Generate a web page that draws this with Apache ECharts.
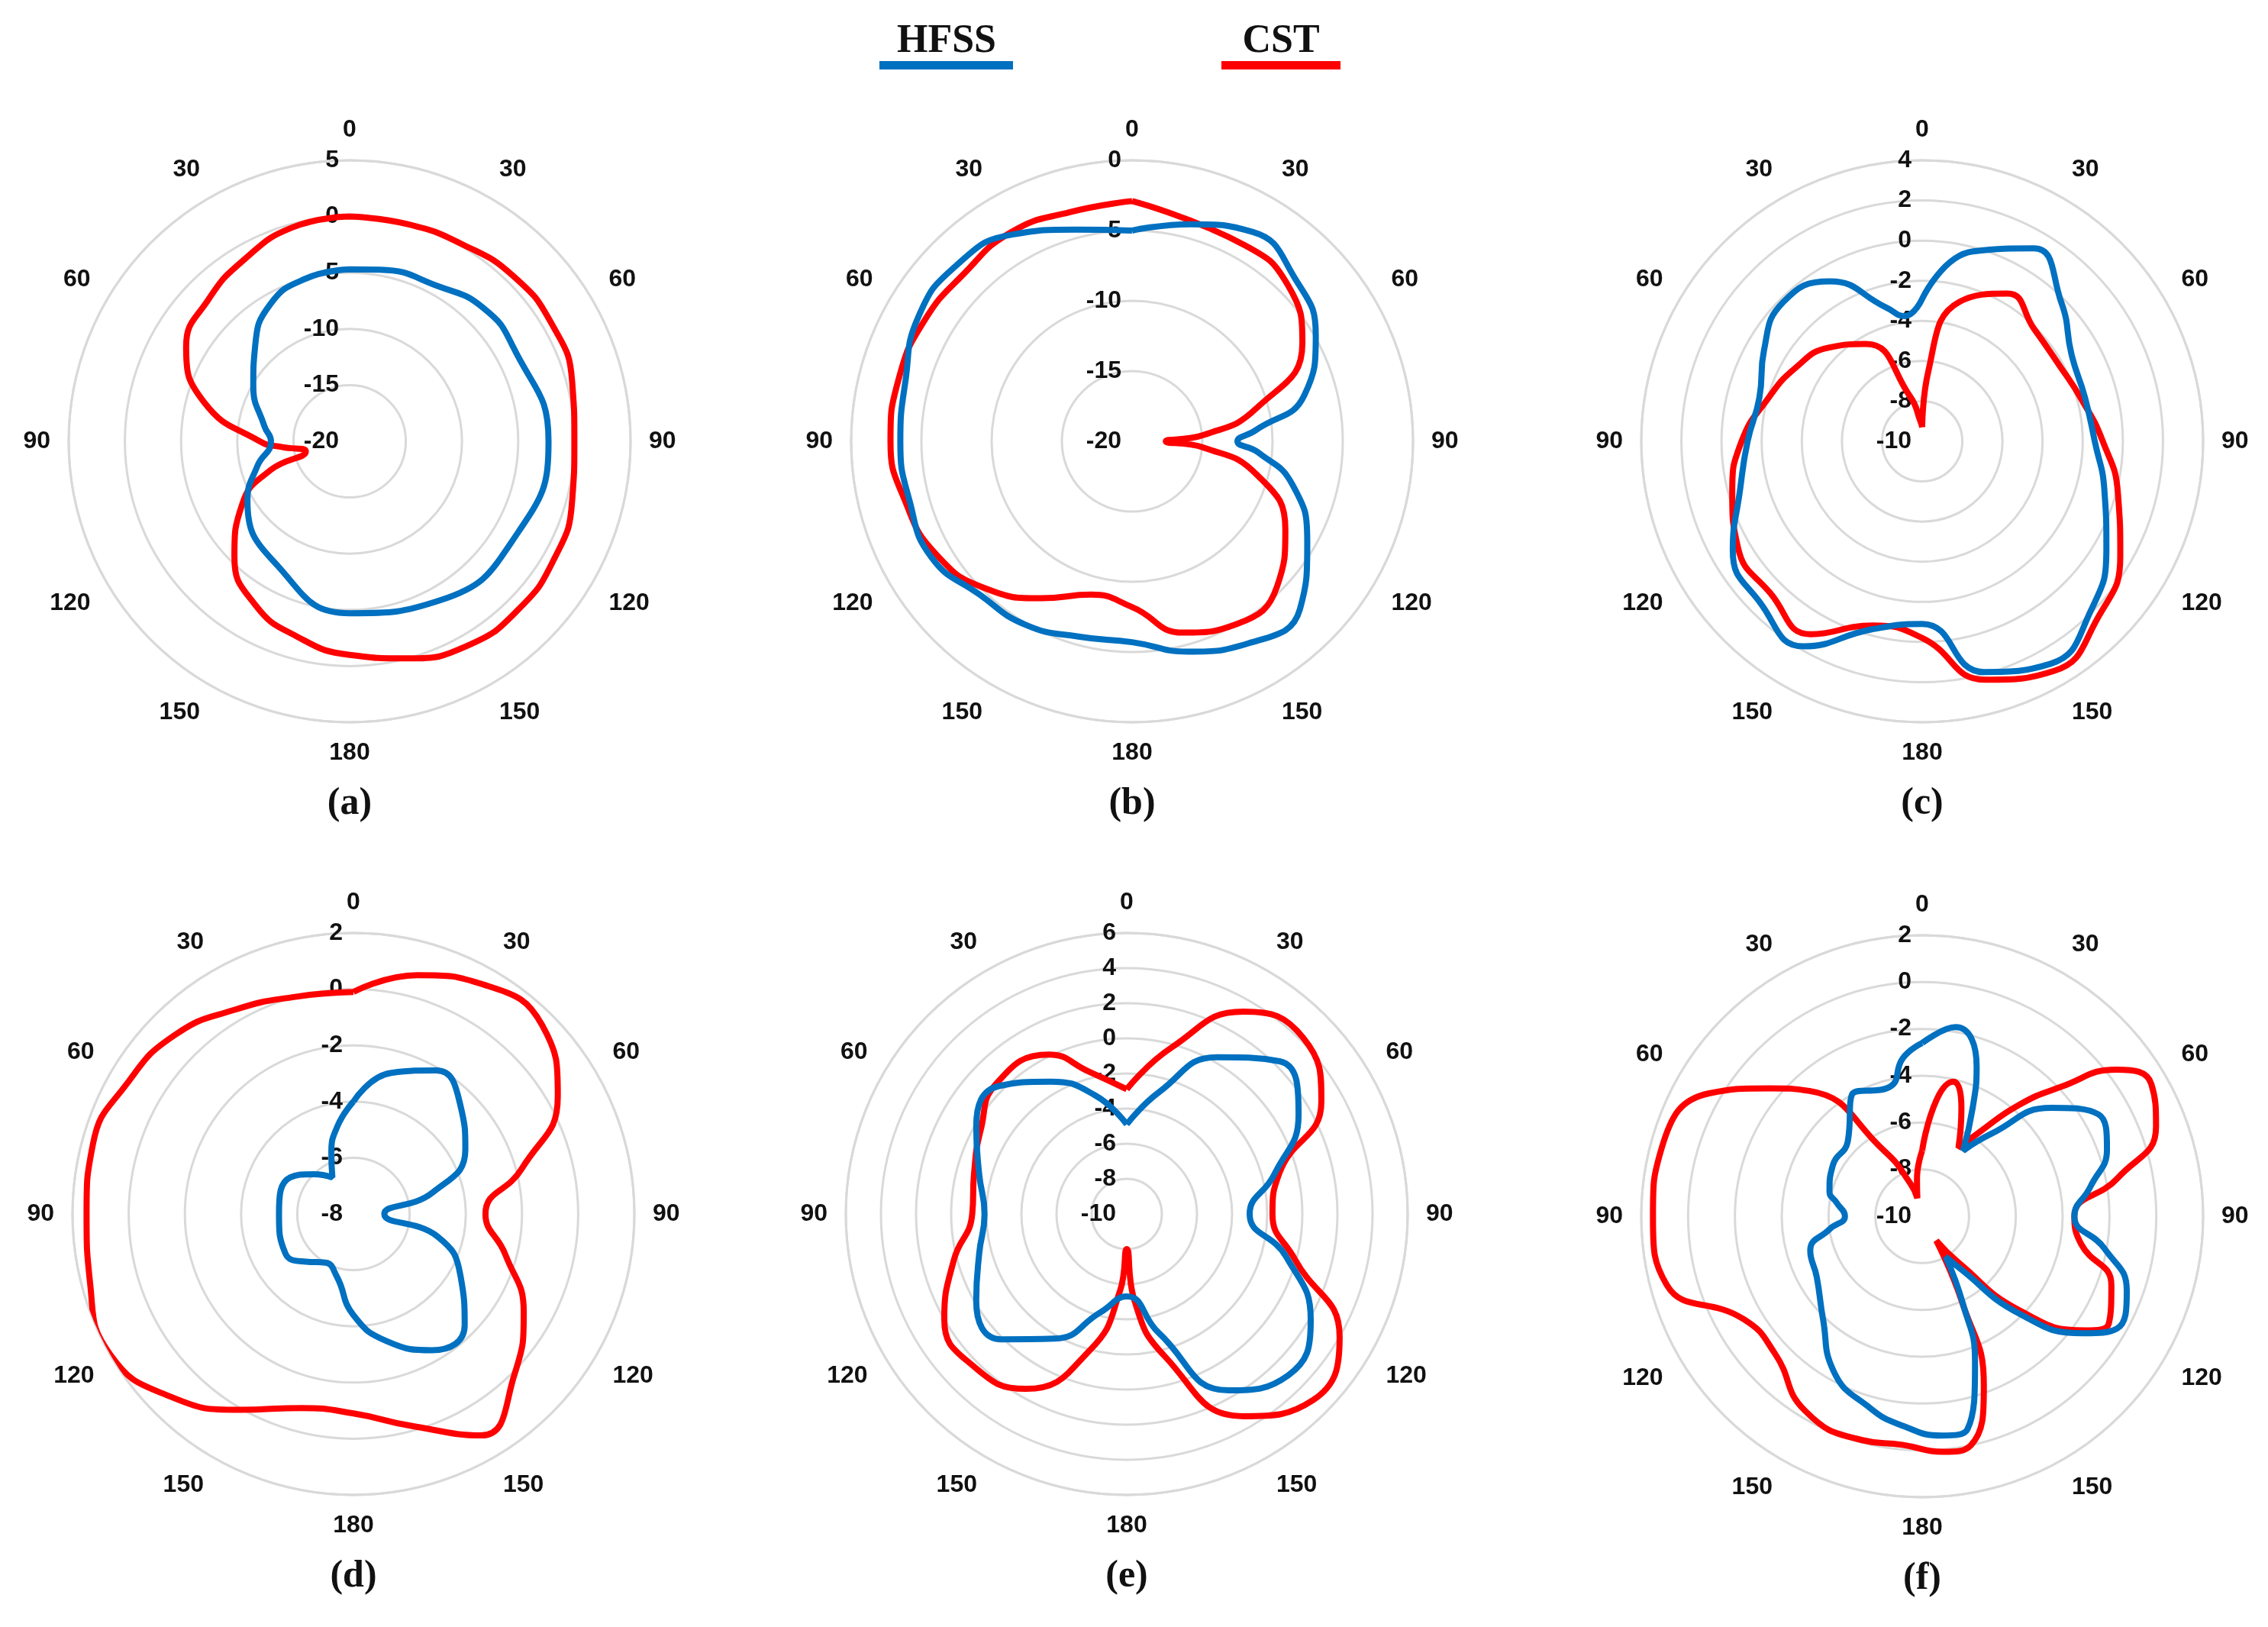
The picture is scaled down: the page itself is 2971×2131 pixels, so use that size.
<!DOCTYPE html>
<html><head><meta charset="utf-8">
<script src="https://cdn.jsdelivr.net/npm/echarts@6/dist/echarts.min.js"></script>
<style>html,body{margin:0;padding:0;background:#fff}#c{width:2971px;height:2131px}</style>
</head><body><div id="c"></div>
<script>
// [angle(deg), gain(dB)]
const aHFSS=[[0,-4.7],[10,-4.5],[30,-4.1],[45,-3.2],[60,-3.2],[90,-2.3],[120,-3],[150,-3.7],[180,-4.7],[210,-7.2],[240,-9.5],[255,-11.5],[270,-13],[280,-12.3],[300,-10.1],[315,-8.1],[330,-5.9],[345,-5]];
const aCST=[[0,0],[15,0],[30,0.2],[45,0.7],[60,0.8],[75,0.5],[90,0],[105,0.5],[120,1],[135,1.2],[150,1],[165,0],[180,-1],[195,-2],[210,-3.2],[225,-5.5],[240,-9],[250,-12.5],[257,-16],[265,-14],[270,-12],[285,-6.6],[300,-3.2],[315,-2.2],[330,-1.3],[345,-0.3]];
const bHFSS=[[0,-5],[15,-4],[30,-2.8],[45,-3.6],[60,-4.9],[75,-7.3],[85,-11.2],[90,-12.5],[95,-11],[105,-8.2],[120,-5.6],[135,-3.1],[150,-3.4],[165,-4.5],[180,-5.7],[195,-5.6],[210,-4.9],[225,-4.6],[240,-3.5],[255,-3.6],[270,-3.5],[285,-3.3],[300,-2.4],[315,-2.3],[330,-3],[345,-4.4]];
const bCST=[[0,-2.9],[30,-3.9],[45,-4.3],[60,-6],[75,-10.8],[85,-14.9],[90,-17.6],[95,-14.9],[105,-10.8],[120,-7.4],[135,-5.4],[150,-5],[165,-5.9],[180,-8.2],[195,-8.7],[210,-7.1],[225,-5.2],[240,-3.9],[255,-3.3],[270,-2.8],[285,-2.8],[300,-2.9],[315,-3.1],[330,-2.8],[345,-3.1]];
const cHFSS=[[0,-2.9],[15,-0.2],[30,1.1],[45,-0.2],[60,-1.4],[75,-1.6],[90,-1.4],[105,-0.6],[120,0.6],[135,1.9],[150,2.8],[165,1.9],[180,-0.9],[195,-0.3],[210,1.8],[225,1.4],[240,0.9],[255,-0.6],[270,-1.3],[285,-1.6],[300,-0.9],[315,-0.2],[330,-0.8],[345,-3.1],[352,-3.7]];
const cCST=[[0,-9.3],[5,-6.5],[15,-2.8],[30,-1.5],[45,-2.1],[60,-2.2],[75,-1.8],[90,-1],[105,0.1],[120,1.4],[135,2.4],[150,3.2],[165,2.3],[180,-0.2],[195,-0.5],[210,1.1],[225,0.7],[240,0.6],[255,-0.2],[270,-1],[285,-2],[300,-2.7],[315,-3.4],[330,-4.4],[345,-7.7],[355,-9]];
const dHFSS=[[0,-4],[15,-2.8],[30,-2.1],[45,-2.6],[60,-3.4],[75,-5.1],[90,-6.9],[105,-4.9],[120,-3.6],[135,-2.4],[150,-2.4],[165,-3.3],[180,-4.4],[195,-5.7],[210,-6],[225,-5.6],[240,-5.2],[270,-5.35],[300,-5.4],[315,-6],[330,-6.5],[340,-5.7],[350,-4.8]];
const dCST=[[0,-0.1],[15,0.8],[30,1.4],[45,1.5],[60,0.4],[75,-1.8],[90,-3.3],[105,-2.4],[120,-1],[135,0.1],[150,1.1],[165,-0.2],[180,-0.9],[195,-0.85],[210,0.05],[225,1.2],[240,2],[255,1.7],[270,1.5],[285,1.6],[300,1.3],[315,1],[330,0.4],[345,0]];
const eHFSS=[[0,-4.9],[15,-2.8],[30,0.3],[45,2.3],[60,1.3],[75,-1.3],[90,-3],[105,-0.6],[120,2.1],[135,3],[150,1.6],[165,-3],[180,-5.3],[195,-4.2],[210,-1.8],[225,0.1],[240,-0.1],[255,-1.3],[270,-1.9],[285,-1.3],[300,-0.1],[315,0.3],[330,-1.3],[345,-3]];
const eCST=[[0,-2.9],[15,-0.2],[30,3.3],[45,4.2],[60,2.8],[75,-1],[90,-1.7],[105,-0.1],[120,4],[135,5],[150,3.3],[165,-1.6],[175,-5.1],[180,-8],[185,-5.6],[195,-2],[210,1.5],[225,2.3],[240,2],[255,0.2],[270,-1.2],[285,-1],[300,-0.4],[315,0.5],[334,0.1],[345,-1.6]];
const fHFSS=[[0,-2.6],[10,-1.8],[20,-3.2],[25,-4.9],[32,-6.7],[40,-5.4],[50,-2.8],[60,-1.3],[70,-1.6],[80,-2.7],[90,-3.5],[100,-2.1],[110,-0.7],[120,-0.4],[126,-1.5],[135,-4.1],[145,-7.4],[150,-8],[155,-5.9],[160,-3.4],[168,-0.7],[175,-0.6],[185,-1],[195,-1.5],[210,-2.4],[224,-3.9],[240,-4.8],[253,-5],[262,-6],[270,-6.7],[279,-6.3],[285,-5.9],[300,-5.6],[315,-5.5],[330,-4],[346,-4.3],[353,-3.2]];
const fCST=[[0,-7.2],[7,-5],[13,-4.1],[20,-5.1],[28,-6.7],[34,-5.7],[41,-3.7],[47,-1.9],[53,0.4],[60,1.3],[69,0.7],[79,-1.5],[90,-3.5],[100,-3.1],[110,-1.4],[120,-0.8],[125,-1.5],[134,-4.2],[142,-7.5],[150,-8.8],[155,-6],[160,-2.3],[168,0],[175,0.1],[185,-0.2],[195,-0.1],[211,-0.3],[227,-1.4],[240,-1.2],[255,1.3],[270,1.5],[285,1.5],[300,0.5],[310,-1.5],[318,-2.8],[330,-6.8],[340,-8.5],[345,-9.2],[352,-8.4]];
const panels=[
 {h:aHFSS,c:aCST,min:-20,max:5,step:5,x:458,y:578,tag:'(a)'},
 {h:bHFSS,c:bCST,min:-20,max:0,step:5,x:1483,y:578,tag:'(b)'},
 {h:cHFSS,c:cCST,min:-10,max:4,step:2,x:2518,y:578,tag:'(c)'},
 {h:dHFSS,c:dCST,min:-8,max:2,step:2,x:463,y:1590,tag:'(d)'},
 {h:eHFSS,c:eCST,min:-10,max:6,step:2,x:1476,y:1590,tag:'(e)'},
 {h:fHFSS,c:fCST,min:-10,max:2,step:2,x:2518,y:1593,tag:'(f)'}
];
const R=368;
function closed(arr){const d=arr.map(p=>[p[1],p[0]]);d.push([arr[0][1],360]);return d;}
const polar=[],angleAxis=[],radiusAxis=[],series=[],graphic=[];
panels.forEach((p,i)=>{
 polar.push({center:[p.x,p.y],radius:R});
 angleAxis.push({polarIndex:i,type:'value',min:0,max:360,interval:30,startAngle:90,clockwise:true,
  axisLine:{lineStyle:{color:'#d9d9d9',width:3}},axisTick:{show:false},splitLine:{show:false},
  axisLabel:{margin:24,color:'#111',fontSize:32,fontWeight:'bold',fontFamily:'Liberation Sans',
   formatter:v=>v>=360?'':String(v>180?360-v:v)}});
 radiusAxis.push({polarIndex:i,min:p.min,max:p.max,interval:p.step,
  axisLine:{show:false},axisTick:{show:false},
  splitLine:{show:true,lineStyle:{color:'#d9d9d9',width:3}},
  axisLabel:{color:'#111',fontSize:32,fontWeight:'bold',fontFamily:'Liberation Sans',margin:14,align:'right'}});
 series.push({type:'line',coordinateSystem:'polar',polarIndex:i,data:closed(p.h),smooth:0.5,symbol:'none',lineStyle:{color:'#0070c0',width:8},z:3});
 series.push({type:'line',coordinateSystem:'polar',polarIndex:i,data:closed(p.c),smooth:0.5,symbol:'none',lineStyle:{color:'#ff0000',width:8},z:2});
 graphic.push({type:'text',x:p.x,y:p.y+475,style:{text:p.tag,fill:'#111',font:'bold 50px "Liberation Serif"',align:'center',verticalAlign:'middle'}});
});
graphic.push({type:'text',x:1240,y:55,style:{text:'HFSS',fill:'#111',font:'bold 52px "Liberation Serif"',align:'center',verticalAlign:'middle'}});
graphic.push({type:'rect',shape:{x:1152,y:80,width:175,height:11},style:{fill:'#0070c0'}});
graphic.push({type:'text',x:1678,y:55,style:{text:'CST',fill:'#111',font:'bold 52px "Liberation Serif"',align:'center',verticalAlign:'middle'}});
graphic.push({type:'rect',shape:{x:1600,y:80,width:156,height:11},style:{fill:'#ff0000'}});
const chart=echarts.init(document.getElementById('c'));
chart.setOption({animation:false,backgroundColor:'#fff',polar,angleAxis,radiusAxis,series,graphic});
</script></body></html>
